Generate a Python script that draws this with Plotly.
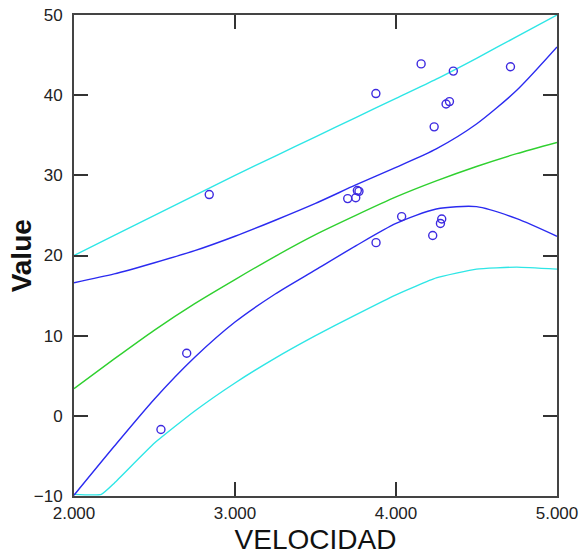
import plotly.graph_objects as go

# ---- data ----
vel = [2.54, 2.70, 2.84, 3.70, 3.75, 3.76, 3.77, 3.875, 3.876, 4.035, 4.156,
       4.228, 4.237, 4.276, 4.284, 4.311, 4.332, 4.356, 4.711]
value = [-1.7, 7.8, 27.6, 27.1, 27.2, 28.1, 28.0, 40.2, 21.6, 24.85, 43.9,
         22.5, 36.05, 24.0, 24.55, 38.9, 39.2, 43.0, 43.55]

x_grid = [2.0, 2.25, 2.5, 2.75, 3.0, 3.25, 3.5, 3.75, 4.0, 4.25, 4.5, 4.75, 5.0]
fit = [3.4, 7.1, 10.7, 14.0, 17.0, 19.9, 22.6, 25.0, 27.3, 29.3, 31.1, 32.7, 34.1]
upper_conf = [16.6, 17.7, 19.1, 20.6, 22.4, 24.4, 26.5, 28.8, 31.0, 33.3, 36.4, 40.6, 46.0]
lower_conf = [-9.9, -3.8, 2.1, 7.3, 11.7, 15.2, 18.2, 21.2, 24.0, 25.8, 26.1, 24.6, 22.4]
upper_pred = [20.0, 22.5, 25.0, 27.5, 30.0, 32.4, 34.8, 37.2, 39.6, 42.0, 44.6, 47.3, 50.0]
x_lower_pred = [2.0, 2.17, 2.25, 2.5, 2.75, 3.0, 3.25, 3.5, 3.75, 4.0, 4.25, 4.5, 4.75, 5.0]
lower_pred = [-9.8, -9.8, -8.4, -3.4, 0.6, 4.1, 7.2, 10.0, 12.6, 15.1, 17.2, 18.3, 18.55, 18.3]

x_ticks = [2, 3, 4, 5]
x_tick_text = ["2.000", "3.000", "4.000", "5.000"]
y_ticks = [-10, 0, 10, 20, 30, 40, 50]

CYAN = "#2ee6e6"
BLUE = "#2b2bf0"
GREEN = "#2fd02f"
POINT = "#3d2ae0"
FONT = "Liberation Sans, Arial, sans-serif"

fig = go.Figure()

def add_line(x, y, color, smoothing=0.7):
    fig.add_trace(go.Scatter(x=x, y=y, mode="lines",
                             line=dict(color=color, width=1.4, shape="spline", smoothing=smoothing),
                             hoverinfo="skip", showlegend=False))

add_line(x_grid, upper_pred, CYAN)
add_line(x_lower_pred, lower_pred, CYAN, smoothing=0.4)
add_line(x_grid, upper_conf, BLUE)
add_line(x_grid, lower_conf, BLUE)
add_line(x_grid, fit, GREEN)

fig.add_trace(go.Scatter(x=vel, y=value, mode="markers",
                         marker=dict(symbol="circle-open", size=8, color=POINT,
                                     line=dict(width=1.4, color=POINT)),
                         showlegend=False))

axis_common = dict(showgrid=False, zeroline=False, showline=True, linecolor="#444444",
                   linewidth=2, mirror="ticks", ticks="inside", ticklen=14, tickwidth=2,
                   tickcolor="#333333", layer="above traces",
                   tickfont=dict(family=FONT, size=17, color="#222222"))

fig.update_layout(
    width=582, height=558,
    margin=dict(l=74, r=25, t=15, b=62, autoexpand=False),
    paper_bgcolor="white", plot_bgcolor="white",
    xaxis=dict(range=[2, 5], tickmode="array", tickvals=x_ticks, ticktext=x_tick_text,
               title=dict(text="VELOCIDAD", standoff=7,
                          font=dict(family=FONT, size=28, color="#111111")),
               automargin=False, ticklabelstandoff=1, **axis_common),
    yaxis=dict(range=[-10, 50], tickmode="array", tickvals=y_ticks,
               automargin=False, ticklabelstandoff=6, **axis_common),
    annotations=[dict(text="<b>Value</b>", textangle=-90, showarrow=False,
                      xref="paper", yref="paper", x=-0.108, y=0.5,
                      xanchor="center", yanchor="middle",
                      font=dict(family=FONT, size=28, color="#111111"))],
)

fig.write_html("out.html", config={"displayModeBar": False},
               post_script="document.body.style.margin='0';document.body.style.padding='0';")
